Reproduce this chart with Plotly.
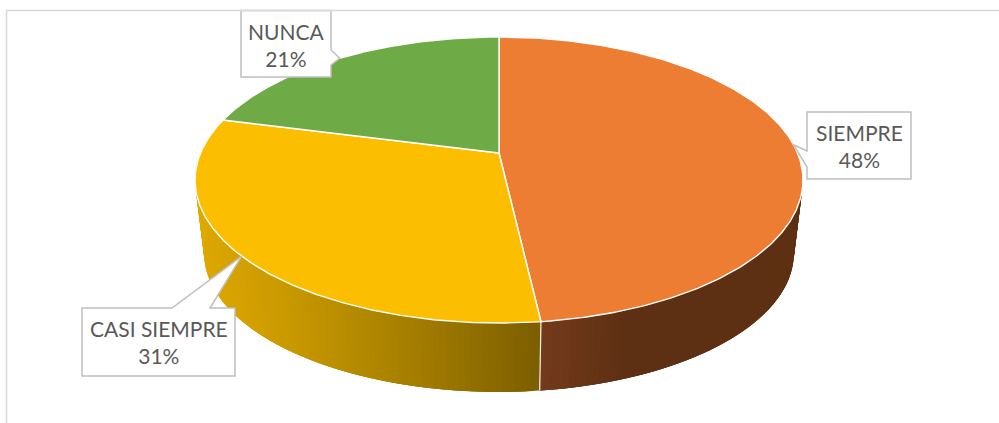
import numpy as np
import plotly.graph_objects as go

# Survey answers and their shares
categories = ["SIEMPRE", "CASI SIEMPRE", "NUNCA"]
values = [48, 31, 21]
top_colors = ["#EC7D32", "#FBBE00", "#6EAB47"]

WIDTH, HEIGHT = 999, 423

# Perspective disc: top face, then the smaller bottom rim of the extrusion
CX, CY = 499.0, 153.0
RX, RY, TILT = 298.5, 137.9, 0.189
RIM_SCALE, RIM_CY = 0.97, 227.0
FRONT_WARP = 0.65  # degrees of apparent rotation at the front of the disc


def project(theta, scale=1.0, cy=CY):
    """Map clockwise angles (degrees from 12 o'clock) onto the tilted disc."""
    t = np.radians(theta)
    t = t + np.radians(FRONT_WARP) * ((1 - np.cos(t)) / 2) ** 2
    u, v = np.sin(t), np.cos(t)
    w = 1 + TILT * v
    return CX + scale * RX * u / w, cy - scale * RY * v / w


# Side wall shading, sampled along the screen x position
wall_ramps = {
    "SIEMPRE": ([541, 625, 810], [(116, 58, 27), (94, 48, 19), (94, 48, 19)]),
    "CASI SIEMPRE": ([195, 290, 400, 541], [(222, 168, 0), (200, 152, 0), (168, 128, 0), (124, 94, 0)]),
}


def wall_color(name, x):
    xs, stops = wall_ramps[name]
    rgb = [np.interp(x, xs, [s[i] for s in stops]) for i in range(3)]
    return "rgb({:.0f},{:.0f},{:.0f})".format(*rgb)


fig = go.Figure()

edges = 3.6 * np.concatenate([[0], np.cumsum(values)])
spans = {c: (edges[i], edges[i + 1]) for i, c in enumerate(categories)}

# Visible outer wall, from the right extreme round to the left extreme.
# Each strip runs on under the next one so no pale seams open between them.
WALL_FROM, WALL_TO = 84.0, 276.0
for name in categories[:2]:
    start = max(spans[name][0], WALL_FROM)
    stop = min(spans[name][1], WALL_TO)
    for a in np.arange(start, stop, 1.0):
        pair = np.linspace(a, min(a + 3.0, stop), 4)
        x_top, y_top = project(pair)
        x_low, y_low = project(pair, RIM_SCALE, RIM_CY)
        color = wall_color(name, float(project(a + 0.5)[0]))
        fig.add_trace(go.Scatter(
            x=np.concatenate([x_top, x_low[::-1], x_top[:1]]),
            y=np.concatenate([y_top, y_low[::-1], y_top[:1]]),
            mode="lines", fill="toself", fillcolor=color,
            line=dict(width=0), hoverinfo="skip", showlegend=False,
        ))

# Seam between the two visible wall sections
seam = edges[1]
sx_top, sy_top = project(seam)
sx_low, sy_low = project(seam, RIM_SCALE, RIM_CY)
fig.add_trace(go.Scatter(
    x=[sx_top, sx_low], y=[sy_top, sy_low], mode="lines",
    line=dict(color="#F2F2F2", width=1.2), hoverinfo="skip", showlegend=False,
))

# Top face slices
for i, name in enumerate(categories):
    a, b = spans[name]
    theta = np.linspace(a, b, 240)
    x_arc, y_arc = project(theta)
    fig.add_trace(go.Scatter(
        x=np.concatenate([[CX], x_arc, [CX]]),
        y=np.concatenate([[CY], y_arc, [CY]]),
        mode="lines", fill="toself", fillcolor=top_colors[i],
        line=dict(color="#FFFFFF", width=1.4), name=name,
        hoverinfo="skip", showlegend=False,
    ))

# Callout boxes: left, right, top, bottom, and where each pointer leaves the box
callouts = {
    "SIEMPRE": dict(box=(807, 911, 112, 179), side="left", base=(151, 167), text_xy=(859, 146)),
    "CASI SIEMPRE": dict(box=(82, 235, 308, 376), side="top", base=(172, 210), text_xy=(159, 342)),
    "NUNCA": dict(box=(241, 331, 10.5, 77), side="right", base=(50, 65), text_xy=(286, 45)),
}

shapes = []
annotations = []
for name, value in zip(categories, values):
    c = callouts[name]
    left, right, top, bottom = c["box"]
    # Pointer tip sits on the rim at the middle of the slice
    tip_x, tip_y = project(0.5 * sum(spans[name]))
    b0, b1 = c["base"]
    if c["side"] == "left":
        outline = [(left, top), (right, top), (right, bottom), (left, bottom),
                   (left, b1), (tip_x, tip_y), (left, b0)]
    elif c["side"] == "right":
        outline = [(left, top), (right, top), (right, b0), (tip_x, tip_y),
                   (right, b1), (right, bottom), (left, bottom)]
    else:
        outline = [(left, top), (b0, top), (tip_x, tip_y), (b1, top),
                   (right, top), (right, bottom), (left, bottom)]
    path = "M " + " L ".join(f"{x:.1f},{y:.1f}" for x, y in outline) + " Z"
    shapes.append(dict(type="path", path=path, xref="x", yref="y", layer="above",
                       fillcolor="#FFFFFF", line=dict(color="#BFBFBF", width=1.5)))
    annotations.append(dict(
        x=c["text_xy"][0], y=c["text_xy"][1], xref="x", yref="y", showarrow=False,
        text=f"{name}<br>{value}%", align="center",
        font=dict(family="Lato, Carlito, sans-serif", size=21, color="#595959"),
    ))

# Chart area frame along the top and left, over the clipped callout edge
shapes.append(dict(type="line", xref="x", yref="y", x0=6.5, x1=WIDTH, y0=10.5, y1=10.5,
                   line=dict(color="#D9D9D9", width=1.6), layer="above"))
shapes.append(dict(type="line", xref="x", yref="y", x0=6.5, x1=6.5, y0=10, y1=HEIGHT,
                   line=dict(color="#D9D9D9", width=1.6), layer="above"))

fig.update_layout(
    width=WIDTH, height=HEIGHT, autosize=False,
    margin=dict(l=0, r=0, t=0, b=0),
    paper_bgcolor="#FFFFFF", plot_bgcolor="#FFFFFF",
    xaxis=dict(range=[0, WIDTH], visible=False, fixedrange=True),
    yaxis=dict(range=[HEIGHT, 0], visible=False, fixedrange=True),
    shapes=shapes, annotations=annotations, showlegend=False,
)

fig.write_html("out.html", config=dict(displayModeBar=False))
